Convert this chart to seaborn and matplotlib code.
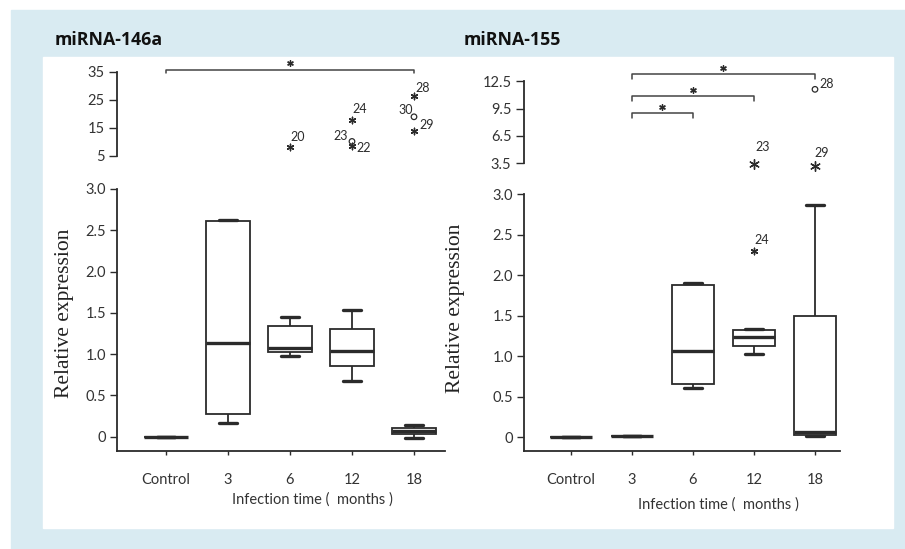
"""
Relative expression of miRNA-146a and miRNA-155 by infection time.
Box plots with a broken y axis (outliers / extremes shown in the upper part).
"""

import matplotlib
matplotlib.use("Agg")
import matplotlib.pyplot as plt
import seaborn as sns
import pandas as pd
from matplotlib.patches import Rectangle

sns.set_theme(style="ticks")
plt.rcParams["font.family"] = ["Lato", "DejaVu Sans"]

W, H = 905, 549
INK = "#2b2b2b"

groups = ["Control", "3", "6", "12", "18"]

# miRNA-146a box stats: lower whisker, Q1, median, Q3, upper whisker
a146_low = [0.0, 0.17, 0.98, 0.68, -0.01]
a146_q1 = [0.0, 0.27, 1.02, 0.86, 0.03]
a146_med = [0.0, 1.13, 1.08, 1.04, 0.07]
a146_q3 = [0.0, 2.61, 1.34, 1.30, 0.11]
a146_high = [0.0, 2.62, 1.45, 1.54, 0.14]

# miRNA-146a outliers (o) and extremes (*) with case numbers
a146_out_group = ["6", "12", "12", "12", "18", "18", "18"]
a146_out_value = [8.2, 17.9, 10.2, 8.4, 26.4, 19.0, 14.0]
a146_out_kind = ["*", "*", "o", "*", "*", "o", "*"]
a146_out_case = ["20", "24", "23", "22", "28", "30", "29"]

# significance brackets: from group, to group, height
a146_sig_from = ["Control"]
a146_sig_to = ["18"]
a146_sig_height = [35.7]

# miRNA-155 box stats
m155_low = [-0.005, 0.01, 0.61, 1.03, 0.01]
m155_q1 = [-0.005, 0.01, 0.65, 1.13, 0.03]
m155_med = [-0.005, 0.01, 1.06, 1.23, 0.06]
m155_q3 = [-0.005, 0.01, 1.88, 1.32, 1.49]
m155_high = [-0.005, 0.01, 1.90, 1.34, 2.87]

m155_out_group = ["12", "12", "18", "18"]
m155_out_value = [2.30, 3.42, 3.24, 11.6]
m155_out_kind = ["*", "*", "*", "o"]
m155_out_case = ["24", "23", "29", "28"]

m155_sig_from = ["3", "3", "3"]
m155_sig_to = ["18", "12", "6"]
m155_sig_height = [13.27, 10.86, 9.03]


def px_rect(x0, y0, x1, y1):
    return [x0 / W, 1 - y1 / H, (x1 - x0) / W, (y1 - y0) / H]


def box_frame(low, q1, med, q3, high):
    rows = []
    for i, g in enumerate(groups):
        for v in (low[i], q1[i], med[i], q3[i], high[i]):
            rows.append({"group": g, "value": v})
    return pd.DataFrame(rows)


# label offsets (points) for the case numbers
label_offsets = {
    ("146", "20"): (0.5, 7, "left"), ("146", "24"): (0, 8, "left"),
    ("146", "23"): (-3, 4, "right"), ("146", "22"): (3.5, -1, "left"),
    ("146", "28"): (1, 6, "left"), ("146", "30"): (-1, 5, "right"),
    ("146", "29"): (4, 4, "left"),
    ("155", "24"): (0.5, 8, "left"), ("155", "23"): (1, 12, "left"),
    ("155", "29"): (-0.5, 9, "left"), ("155", "28"): (3, 4, "left"),
}


def draw_outliers(ax, key, out_group, out_value, out_kind, out_case, big=False):
    for g, v, k, c in zip(out_group, out_value, out_kind, out_case):
        x = groups.index(g)
        if k == "*":
            ax.scatter([x], [v], marker=(6, 2, 0), s=48 if big else 22,
                       color=INK, linewidths=1.0, zorder=5, clip_on=False)
        else:
            ax.scatter([x], [v], marker="o", s=16, facecolors="none",
                       edgecolors=INK, linewidths=0.9, zorder=5, clip_on=False)
        dx, dy, ha = label_offsets[(key, c)]
        ax.annotate(c, (x, v), xytext=(dx, dy), textcoords="offset points",
                    ha=ha, va="center", fontsize=9, color=INK)


def sig_brackets(ax, sig_from, sig_to, sig_height, drop, lift):
    for a, b, h in zip(sig_from, sig_to, sig_height):
        xa, xb = groups.index(a), groups.index(b)
        ax.plot([xa, xa, xb, xb], [h - drop, h, h, h - drop],
                color="#444444", lw=1.1, clip_on=False)
        ax.scatter([(xa + xb) / 2], [h + lift], marker=(6, 2, 0), s=16,
                   color=INK, linewidths=1.0, clip_on=False, zorder=5)


def style_bottom(ax, xlim):
    ax.set_xlim(*xlim)
    ax.set_ylim(-0.173, 3.0)
    ax.set_yticks([0, 0.5, 1.0, 1.5, 2.0, 2.5, 3.0])
    ax.set_yticklabels(["0", "0.5", "1.0", "1.5", "2.0", "2.5", "3.0"])
    ax.set_xticks(range(len(groups)))
    ax.set_xticklabels(groups)
    ax.set_xlabel("")
    ax.set_ylabel("")
    sns.despine(ax=ax)
    for s in ("left", "bottom"):
        ax.spines[s].set_color(INK)
        ax.spines[s].set_linewidth(1.3)
    ax.tick_params(axis="y", length=5, width=1, color=INK, pad=3,
                   labelsize=10.5, labelcolor="#333333")
    ax.tick_params(axis="x", length=3, width=1, color=INK, pad=13,
                   labelsize=10.5, labelcolor="#333333")


def style_top(ax, xlim, ylim, ticks, labels):
    ax.set_xlim(*xlim)
    ax.set_ylim(*ylim)
    ax.set_yticks(ticks)
    ax.set_yticklabels(labels)
    ax.set_xticks([])
    for s in ("top", "right", "bottom"):
        ax.spines[s].set_visible(False)
    ax.spines["left"].set_bounds(ticks[0], ticks[-1])
    ax.spines["left"].set_color(INK)
    ax.spines["left"].set_linewidth(1.3)
    ax.patch.set_alpha(0)
    ax.tick_params(axis="y", length=6, width=1, color=INK, pad=3,
                   labelsize=10.5, labelcolor="#333333")


def draw_boxes(ax, df):
    sns.boxplot(data=df, x="group", y="value", order=groups, ax=ax,
                whis=(0, 100), width=0.7, color="white", linecolor=INK,
                linewidth=1.3, showfliers=False,
                medianprops={"linewidth": 2.4},
                capprops={"linewidth": 2.4}, capwidths=0.3)


fig = plt.figure(figsize=(W / 100, H / 100), dpi=100)
fig.patch.set_facecolor("white")
fig.patches.append(Rectangle((11 / W, 0), 1 - 11 / W, 1 - 10 / H,
                             transform=fig.transFigure, color="#d9ebf2",
                             zorder=-2))
fig.patches.append(Rectangle((43 / W, 1 - 528 / H), (893 - 43) / W,
                             (528 - 57) / H, transform=fig.transFigure,
                             color="white", zorder=-1))

fig.text(55 / W, 1 - 40 / H, "miRNA-146a", fontsize=12.8, fontweight="bold",
         family=["Open Sans", "DejaVu Sans"], va="center", color="#111111")
fig.text(464 / W, 1 - 40 / H, "miRNA-155", fontsize=12.8, fontweight="bold",
         family=["Open Sans", "DejaVu Sans"], va="center", color="#111111")

# ---- miRNA-146a ----
xlim_l = (-0.79, 4.5)
ax_lb = fig.add_axes(px_rect(117, 189, 445, 451))
draw_boxes(ax_lb, box_frame(a146_low, a146_q1, a146_med, a146_q3, a146_high))
style_bottom(ax_lb, xlim_l)

ax_lt = fig.add_axes(px_rect(117, 58, 445, 160))
style_top(ax_lt, xlim_l, (3.57, 40.0), [5, 15, 25, 35], ["5", "15", "25", "35"])
draw_outliers(ax_lt, "146", a146_out_group, a146_out_value, a146_out_kind,
              a146_out_case)
sig_brackets(ax_lt, a146_sig_from, a146_sig_to, a146_sig_height,
             drop=1.1, lift=2.4)

fig.text(65 / W, 1 - 313 / H, "Relative expression", rotation=90,
         family=["Liberation Serif", "DejaVu Serif"], fontsize=15.5,
         ha="center", va="center", color="#222222")
fig.text(312 / W, 1 - 500 / H, "Infection time (  months )", fontsize=10.5,
         ha="center", va="center", color="#333333")

# ---- miRNA-155 ----
xlim_r = (-0.77, 4.41)
ax_rb = fig.add_axes(px_rect(524, 194.3, 840, 451))
draw_boxes(ax_rb, box_frame(m155_low, m155_q1, m155_med, m155_q3, m155_high))
style_bottom(ax_rb, xlim_r)
draw_outliers(ax_rb, "155", m155_out_group[:1], m155_out_value[:1],
              m155_out_kind[:1], m155_out_case[:1])

ax_rt = fig.add_axes(px_rect(524, 58, 840, 170))
style_top(ax_rt, xlim_r, (2.77, 15.03), [3.5, 6.5, 9.5, 12.5],
          ["3.5", "6.5", "9.5", "12.5"])
draw_outliers(ax_rt, "155", m155_out_group[1:], m155_out_value[1:],
              m155_out_kind[1:], m155_out_case[1:], big=True)
sig_brackets(ax_rt, m155_sig_from, m155_sig_to, m155_sig_height,
             drop=0.55, lift=0.62)

fig.text(455 / W, 1 - 308 / H, "Relative expression", rotation=90,
         family=["Liberation Serif", "DejaVu Serif"], fontsize=15.5,
         ha="center", va="center", color="#222222")
fig.text(718 / W, 1 - 505 / H, "Infection time (  months )", fontsize=10.5,
         ha="center", va="center", color="#333333")

fig.savefig("out.png", dpi=100)
